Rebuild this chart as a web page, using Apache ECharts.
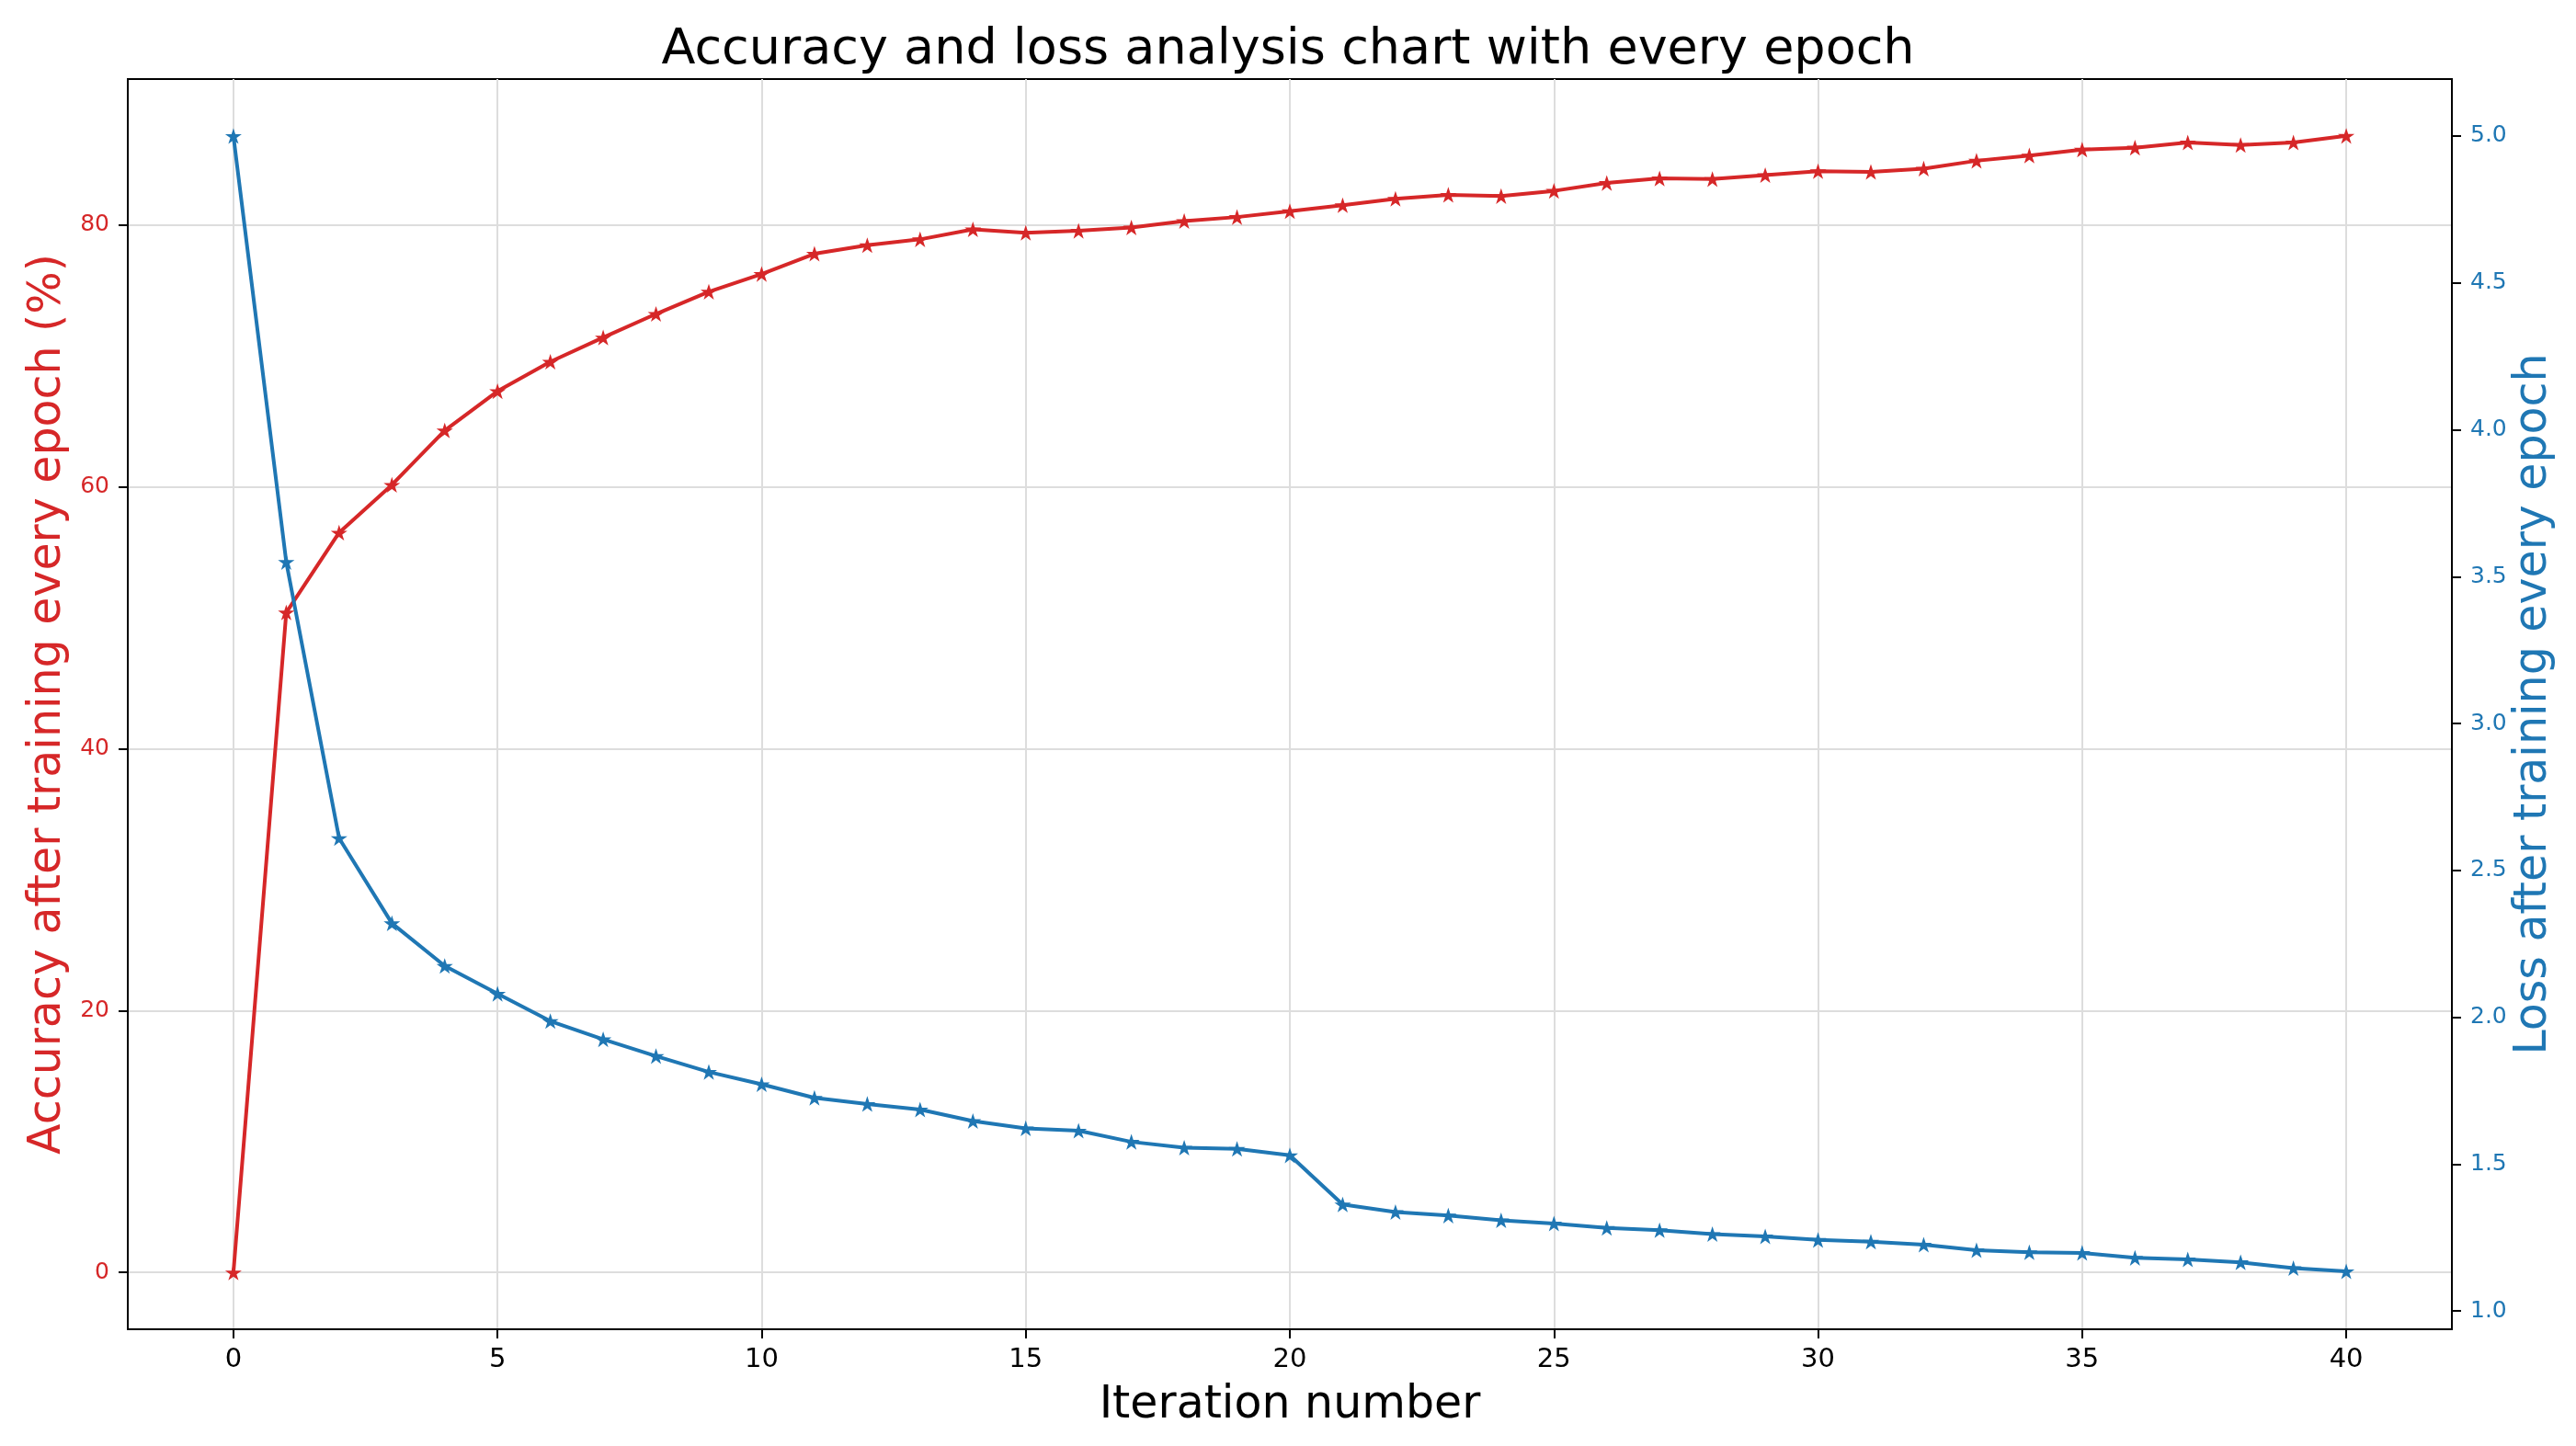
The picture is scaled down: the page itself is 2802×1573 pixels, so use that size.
<!DOCTYPE html>
<html>
<head>
<meta charset="utf-8">
<script src="https://cdn.jsdelivr.net/npm/echarts@6/dist/echarts.min.js"></script>
<style>
html,body{margin:0;padding:0;background:#fff;}
#chart{width:2802px;height:1573px;}
</style>
</head>
<body>
<div id="chart"></div>
<script>
const epochs = [0,1,2,3,4,5,6,7,8,9,10,11,12,13,14,15,16,17,18,19,20,21,22,23,24,25,26,27,28,29,30,31,32,33,34,35,36,37,38,39,40];
const accuracy = [0,50.4,56.5,60.15,64.3,67.3,69.55,71.4,73.2,74.9,76.25,77.8,78.45,78.9,79.66,79.4,79.55,79.8,80.3,80.6,81.05,81.5,82.0,82.3,82.2,82.6,83.2,83.55,83.5,83.8,84.1,84.05,84.3,84.9,85.3,85.75,85.9,86.3,86.1,86.3,86.8];
const loss = [5.0,3.55,2.61,2.32,2.175,2.08,1.987,1.925,1.868,1.814,1.772,1.726,1.705,1.686,1.647,1.622,1.614,1.576,1.556,1.552,1.530,1.363,1.337,1.325,1.309,1.298,1.283,1.275,1.262,1.254,1.242,1.236,1.226,1.207,1.200,1.198,1.181,1.176,1.166,1.146,1.135];
const xTicks = [0,5,10,15,20,25,30,35,40];
const accTicks = [0,20,40,60,80];
const lossTicks = [1.0,1.5,2.0,2.5,3.0,3.5,4.0,4.5,5.0];

const RED = '#d62728', BLUE = '#1f77b4';
const FONT = 'DejaVu Sans';
const STAR = 'path://M50 0 L61.23 34.55 L97.55 34.55 L68.17 55.9 L79.39 90.45 L50 69.1 L20.61 90.45 L31.83 55.9 L2.45 34.55 L38.77 34.55 Z';

const chart = echarts.init(document.getElementById('chart'), null, {renderer:'canvas'});
chart.setOption({
  animation:false,
  backgroundColor:'#fff',
  textStyle:{fontFamily:FONT},
  title:{
    text:'Accuracy and loss analysis chart with every epoch',
    left:'center', top:23,
    textStyle:{fontFamily:FONT, fontSize:54, fontWeight:'normal', color:'#000'}
  },
  grid:{left:139, right:135, top:86, bottom:127, show:true, borderColor:'#000', borderWidth:2, backgroundColor:'transparent'},
  xAxis:{
    type:'value', min:-2, max:42, splitNumber:9,
    name:'Iteration number', nameLocation:'middle', nameGap:59,
    nameTextStyle:{fontFamily:FONT, fontSize:49, color:'#000'},
    axisLine:{show:true, onZero:false, lineStyle:{color:'#000', width:2}},
    axisTick:{show:true, length:10, lineStyle:{color:'#000', width:2}, customValues:xTicks},
    axisLabel:{fontFamily:FONT, fontSize:29, color:'#000', margin:19, customValues:xTicks},
    splitLine:{show:true, lineStyle:{color:'#dddddd', width:2}}
  },
  yAxis:[{
    type:'value', position:'left', min:-4.34, max:91.14,
    name:'Accuracy after training every epoch (%)', nameLocation:'middle', nameRotate:90, nameGap:60,
    nameTextStyle:{fontFamily:FONT, fontSize:49, color:RED},
    axisLine:{show:true, onZero:false, lineStyle:{color:'#000', width:2}},
    axisTick:{show:true, length:10, lineStyle:{color:'#000', width:2}, customValues:accTicks},
    axisLabel:{fontFamily:FONT, fontSize:25, color:RED, margin:20, customValues:accTicks},
    splitLine:{show:true, lineStyle:{color:'#dddddd', width:2}}
  },{
    type:'value', position:'right', min:0.938, max:5.194,
    name:'Loss after training every epoch', nameLocation:'middle', nameRotate:90, nameGap:65,
    nameMoveOverlap:false,
    nameTextStyle:{fontFamily:FONT, fontSize:49, color:BLUE},
    axisLine:{show:true, onZero:false, lineStyle:{color:'#000', width:2}},
    axisTick:{show:true, length:10, lineStyle:{color:'#000', width:2}, customValues:lossTicks},
    axisLabel:{fontFamily:FONT, fontSize:25, color:BLUE, margin:20, customValues:lossTicks, formatter:v=>Number(v).toFixed(1)},
    splitLine:{show:false}
  }],
  series:[{
    type:'line', yAxisIndex:0, name:'accuracy',
    data:epochs.map((e,i)=>[e, accuracy[i]]),
    symbol:STAR, symbolSize:18, symbolKeepAspect:true,
    lineStyle:{color:RED, width:4}, itemStyle:{color:RED},
    showAllSymbol:true
  },{
    type:'line', yAxisIndex:1, name:'loss',
    data:epochs.map((e,i)=>[e, loss[i]]),
    symbol:STAR, symbolSize:18, symbolKeepAspect:true,
    lineStyle:{color:BLUE, width:4}, itemStyle:{color:BLUE},
    showAllSymbol:true
  }]
});
</script>
</body>
</html>
